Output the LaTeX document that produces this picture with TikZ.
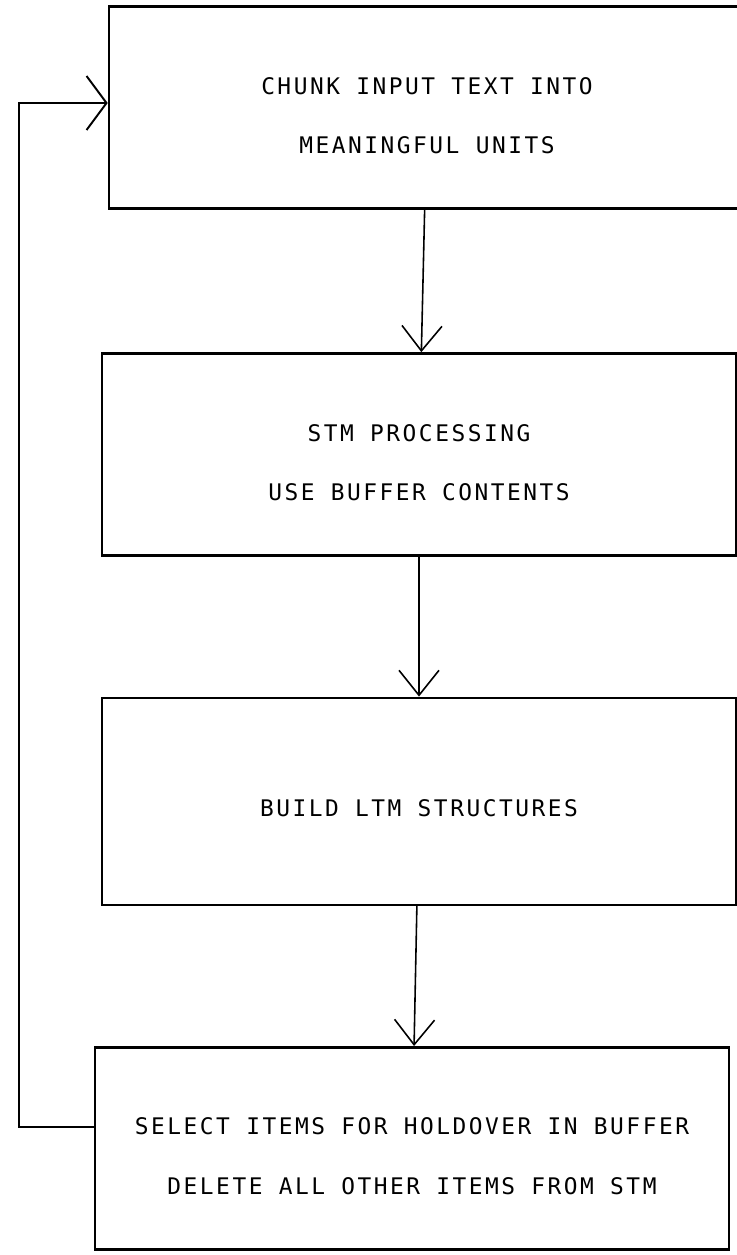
\documentclass[tikz,border=0pt]{standalone}
\usepackage{fontspec}
\newfontfamily\plotfont{DejaVu Sans Mono}[LetterSpace=11.0]
\usepackage{tikz}
\usetikzlibrary{arrows.meta,positioning}

\begin{document}
\begin{tikzpicture}[x=0.02cm,y=-0.02cm,node distance=6.94cm,on grid,
  block/.style={draw,line width=1.5pt,rectangle,minimum width=12.68cm,minimum height=4.04cm,
    align=center,inner sep=0pt,text height=1.86cm,font=\plotfont\fontsize{13}{34}\selectfont},
  >={Straight Barb[length=5mm,width=8mm]},
  flow/.style={line width=0.9pt},
  back/.style={line width=1.1pt,-{Straight Barb[length=4mm,width=10.8mm]}}]
\useasboundingbox (0,0) rectangle (737,1255);
\clip (0,0) rectangle (737,1255);
\node[block,minimum width=12.72cm] (chunk) at (427,107.5) {CHUNK INPUT TEXT INTO\\MEANINGFUL UNITS};
\node[block] (stm) [below = of chunk, xshift=-0.16cm] {STM PROCESSING\\USE BUFFER CONTENTS};
\node[block,minimum height=4.14cm,text height=0.62cm] (ltm) [below = of stm] {BUILD LTM STRUCTURES};
\node[block] (hold) [below = of ltm, xshift=-0.14cm] {SELECT ITEMS FOR HOLDOVER IN BUFFER\\DELETE ALL OTHER ITEMS FROM STM};
\path[->,flow]
(chunk) edge [] (stm)
(stm) edge [] (ltm)
(ltm) edge [] (hold)
;
\draw[back] ([yshift=0.43cm]hold.west) -- ++(-75,0) |- ([yshift=0.09cm]chunk.west);
\end{tikzpicture}
\end{document}
